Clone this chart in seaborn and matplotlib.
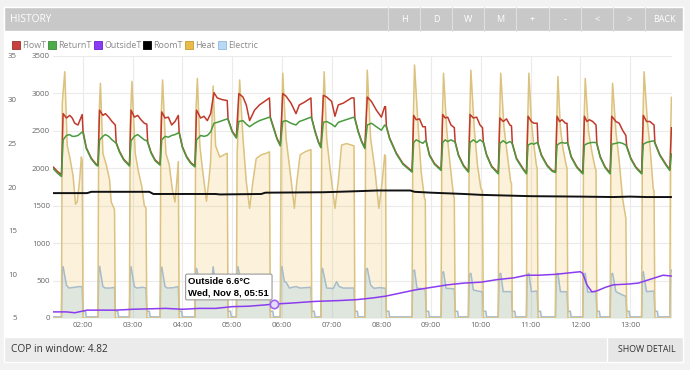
import matplotlib
matplotlib.use("Agg")
import matplotlib.pyplot as plt
import matplotlib.dates as mdates
from matplotlib.patches import Rectangle
from matplotlib.lines import Line2D
import pandas as pd
import seaborn as sns

# ---------------- data (time "HH:MM", value) ----------------
DAY = "2023-11-08 "

FLOW_T = [
    ("01:24", 22.3), ("01:29", 21.8), ("01:34", 21.4),
    ("01:36", 28.4), ("01:40", 27.9), ("01:44", 28.2), ("01:47", 27.9), ("01:50", 27.3), ("01:54", 27.1), ("01:59", 28.3), ("02:00", 26.4),
    ("02:04", 24.5), ("02:10", 23.3), ("02:16", 22.6), ("02:18", 22.5),
    ("02:20", 28.8), ("02:24", 28.2), ("02:27", 28.4), ("02:31", 28.0), ("02:35", 27.5), ("02:39", 27.1),
    ("02:40", 25.1), ("02:44", 24.1), ("02:49", 23.2), ("02:56", 22.5),
    ("02:58", 28.8), ("03:02", 28.0), ("03:06", 28.2), ("03:10", 27.7), ("03:14", 27.3), ("03:17", 27.2),
    ("03:18", 25.2), ("03:22", 24.0), ("03:27", 23.1), ("03:33", 22.6),
    ("03:35", 28.6), ("03:39", 27.9), ("03:43", 28.0), ("03:47", 27.1), ("03:51", 27.5), ("03:55", 28.2), ("03:56", 26.3),
    ("04:00", 24.6), ("04:05", 23.5), ("04:10", 22.8), ("04:15", 22.4),
    ("04:17", 28.8), ("04:22", 27.9), ("04:26", 28.1), ("04:30", 27.6), ("04:34", 28.4), ("04:38", 30.8), ("04:42", 30.2), ("04:48", 30.0), ("04:54", 29.9), ("04:55", 27.8),
    ("05:00", 26.4), ("05:05", 25.7),
    ("05:08", 30.7), ("05:13", 30.3), ("05:17", 29.4), ("05:21", 27.6), ("05:27", 28.8), ("05:33", 29.4), ("05:39", 29.8), ("05:45", 30.2), ("05:46", 28.0),
    ("05:50", 26.8), ("05:54", 25.6), ("05:58", 24.8),
    ("06:01", 30.7), ("06:05", 30.4), ("06:11", 29.6), ("06:17", 28.4), ("06:21", 29.4), ("06:27", 29.7), ("06:35", 30.2), ("06:36", 27.9),
    ("06:40", 26.4), ("06:44", 25.2), ("06:47", 24.6),
    ("06:50", 30.5), ("06:54", 30.3), ("07:00", 29.8), ("07:04", 28.1), ("07:08", 29.4), ("07:14", 29.6), ("07:24", 30.2), ("07:27", 30.2), ("07:28", 27.9),
    ("07:32", 26.4), ("07:36", 25.3), ("07:40", 24.5),
    ("07:43", 30.3), ("07:48", 29.8), ("07:54", 28.8), ("08:00", 28.0), ("08:04", 29.2), ("08:05", 29.2), ("08:06", 27.0),
    ("08:10", 25.6), ("08:18", 23.9), ("08:26", 22.7), ("08:37", 21.8),
    ("08:39", 28.2), ("08:42", 27.7), ("08:46", 27.8), ("08:50", 26.9), ("08:53", 26.9), ("08:54", 25.3),
    ("08:58", 23.7), ("09:04", 22.7), ("09:12", 22.0),
    ("09:14", 28.3), ("09:17", 27.9), ("09:20", 28.0), ("09:24", 27.1), ("09:28", 26.8), ("09:29", 25.2),
    ("09:33", 23.7), ("09:39", 22.5), ("09:45", 21.8),
    ("09:47", 28.3), ("09:51", 27.9), ("09:55", 28.0), ("09:59", 27.1), ("10:02", 26.8), ("10:03", 25.2),
    ("10:07", 23.7), ("10:13", 22.4), ("10:21", 21.6),
    ("10:23", 27.9), ("10:27", 27.5), ("10:31", 27.8), ("10:35", 27.1), ("10:37", 27.0), ("10:38", 25.0),
    ("10:43", 23.3), ("10:51", 22.1), ("10:55", 21.6),
    ("10:57", 28.1), ("11:01", 27.5), ("11:04", 27.3), ("11:08", 27.3), ("11:09", 25.0),
    ("11:13", 23.7), ("11:20", 22.5), ("11:26", 21.9), ("11:30", 21.75),
    ("11:32", 28.1), ("11:35", 27.5), ("11:38", 27.7), ("11:42", 27.3), ("11:44", 27.3), ("11:45", 25.0),
    ("11:49", 23.5), ("11:56", 22.3), ("12:03", 21.6),
    ("12:05", 28.1), ("12:08", 27.5), ("12:11", 27.7), ("12:15", 27.5), ("12:19", 27.1), ("12:20", 25.0),
    ("12:24", 23.5), ("12:30", 22.3), ("12:36", 21.6),
    ("12:38", 28.1), ("12:43", 27.5), ("12:47", 27.3), ("12:51", 26.5), ("12:55", 25.9), ("12:56", 24.7),
    ("13:01", 23.3), ("13:07", 22.3), ("13:14", 21.6),
    ("13:16", 28.2), ("13:20", 27.5), ("13:24", 27.5), ("13:29", 27.1), ("13:30", 25.1),
    ("13:36", 23.7), ("13:44", 22.5), ("13:48", 22.0), ("13:50", 26.8),
]

RETURN_T = [
    ("01:24", 22.1), ("01:29", 21.6), ("01:34", 21.2),
    ("01:36", 25.4), ("01:40", 25.9), ("01:44", 26.0), ("01:47", 25.8), ("01:50", 25.8), ("01:54", 25.9), ("01:59", 26.3), ("02:00", 26.2),
    ("02:04", 24.4), ("02:10", 23.2), ("02:16", 22.5), ("02:18", 22.4),
    ("02:20", 25.4), ("02:24", 25.8), ("02:27", 26.0), ("02:31", 25.8), ("02:35", 25.4), ("02:39", 25.1),
    ("02:40", 25.0), ("02:44", 24.0), ("02:49", 23.1), ("02:56", 22.4),
    ("02:58", 25.3), ("03:02", 25.8), ("03:06", 26.0), ("03:10", 25.7), ("03:14", 25.4), ("03:17", 25.3),
    ("03:18", 25.1), ("03:22", 23.9), ("03:27", 23.0), ("03:33", 22.5),
    ("03:35", 25.4), ("03:39", 25.8), ("03:43", 25.7), ("03:47", 25.9), ("03:51", 26.0), ("03:55", 26.2), ("03:56", 26.2),
    ("04:00", 24.5), ("04:05", 23.4), ("04:10", 22.7), ("04:15", 22.3),
    ("04:17", 25.4), ("04:22", 25.9), ("04:26", 25.8), ("04:30", 25.9), ("04:34", 26.3), ("04:38", 27.3), ("04:42", 27.4), ("04:48", 27.6), ("04:54", 27.8), ("04:55", 27.7),
    ("05:00", 26.3), ("05:05", 25.6),
    ("05:08", 27.5), ("05:13", 27.6), ("05:17", 27.2), ("05:21", 26.9), ("05:27", 27.3), ("05:33", 27.6), ("05:39", 27.8), ("05:45", 28.0), ("05:46", 27.9),
    ("05:50", 26.7), ("05:54", 25.5), ("05:58", 24.7),
    ("06:01", 27.5), ("06:05", 27.6), ("06:11", 27.3), ("06:17", 27.1), ("06:21", 27.5), ("06:27", 27.7), ("06:35", 28.0), ("06:36", 27.8),
    ("06:40", 26.3), ("06:44", 25.1), ("06:47", 24.5),
    ("06:50", 27.4), ("06:54", 27.5), ("07:00", 27.2), ("07:04", 26.9), ("07:08", 27.4), ("07:14", 27.6), ("07:24", 27.9), ("07:27", 28.0), ("07:28", 27.8),
    ("07:32", 26.3), ("07:36", 25.2), ("07:40", 24.4),
    ("07:43", 27.1), ("07:48", 27.3), ("07:54", 26.9), ("08:00", 26.5), ("08:04", 27.1), ("08:05", 27.0), ("08:06", 26.9),
    ("08:10", 25.5), ("08:18", 23.8), ("08:26", 22.6), ("08:37", 21.7),
    ("08:39", 25.1), ("08:42", 25.4), ("08:46", 25.2), ("08:50", 25.0), ("08:53", 25.3), ("08:54", 25.2),
    ("08:58", 23.6), ("09:04", 22.6), ("09:12", 21.9),
    ("09:14", 25.1), ("09:17", 25.4), ("09:20", 25.2), ("09:24", 25.4), ("09:28", 25.2), ("09:29", 25.1),
    ("09:33", 23.6), ("09:39", 22.4), ("09:45", 21.7),
    ("09:47", 25.1), ("09:51", 25.4), ("09:55", 25.1), ("09:59", 25.4), ("10:02", 25.2), ("10:03", 25.1),
    ("10:07", 23.6), ("10:13", 22.3), ("10:21", 21.5),
    ("10:23", 25.0), ("10:27", 25.3), ("10:31", 25.0), ("10:35", 25.2), ("10:37", 25.1), ("10:38", 24.9),
    ("10:43", 23.2), ("10:51", 22.0), ("10:55", 21.5),
    ("10:57", 24.8), ("11:01", 25.0), ("11:04", 24.9), ("11:08", 25.1), ("11:09", 24.9),
    ("11:13", 23.6), ("11:20", 22.4), ("11:26", 21.8), ("11:30", 21.65),
    ("11:32", 24.8), ("11:35", 25.0), ("11:38", 25.1), ("11:42", 25.0), ("11:44", 25.1), ("11:45", 24.9),
    ("11:49", 23.4), ("11:56", 22.2), ("12:03", 21.5),
    ("12:05", 24.8), ("12:09", 25.0), ("12:14", 25.1), ("12:19", 25.1), ("12:20", 24.9),
    ("12:24", 23.4), ("12:30", 22.2), ("12:36", 21.5),
    ("12:38", 24.9), ("12:43", 25.0), ("12:47", 25.1), ("12:51", 25.0), ("12:55", 24.8), ("12:56", 24.6),
    ("13:01", 23.2), ("13:07", 22.2), ("13:14", 21.5),
    ("13:16", 24.9), ("13:20", 25.1), ("13:24", 25.2), ("13:29", 25.3), ("13:30", 25.0),
    ("13:36", 23.6), ("13:44", 22.4), ("13:48", 21.9), ("13:50", 23.8),
]

OUTSIDE_T = [
    ("01:24", 5.7), ("01:40", 5.7), ("01:50", 5.6), ("01:55", 5.7), ("02:00", 5.8), ("02:05", 5.9),
    ("02:40", 5.9), ("03:00", 6.0), ("03:40", 6.1), ("04:00", 6.0), ("04:20", 6.1), ("04:40", 6.1),
    ("05:00", 6.3), ("05:20", 6.35), ("05:40", 6.5), ("05:51", 6.6), ("06:10", 6.7), ("06:40", 6.9),
    ("07:10", 7.0), ("07:30", 7.1), ("07:50", 7.3), ("08:05", 7.5), ("08:20", 7.8), ("08:40", 8.2),
    ("09:00", 8.5), ("09:20", 8.8), ("09:40", 9.0), ("10:00", 9.1), ("10:20", 9.4), ("10:40", 9.6),
    ("10:55", 9.9), ("11:10", 9.9), ("11:30", 10.0), ("11:50", 10.2), ("12:00", 10.3), ("12:03", 10.1),
    ("12:08", 8.8), ("12:14", 8.0), ("12:20", 8.1), ("12:30", 8.5), ("12:40", 8.8), ("13:00", 8.9),
    ("13:10", 9.0), ("13:20", 9.3), ("13:30", 9.6), ("13:40", 9.9), ("13:50", 9.8),
]

ROOM_T = [
    ("01:24", 19.3), ("02:05", 19.3), ("02:10", 19.45), ("03:20", 19.45), ("03:25", 19.2), ("04:40", 19.2),
    ("04:45", 19.15), ("05:35", 19.2), ("05:40", 19.35), ("06:50", 19.4), ("07:25", 19.5), ("07:55", 19.6),
    ("08:35", 19.6), ("08:40", 19.45), ("09:00", 19.35), ("09:40", 19.2), ("10:00", 19.1), ("10:40", 19.0),
    ("11:00", 18.95), ("12:00", 18.9), ("12:40", 18.85), ("13:00", 18.9), ("13:20", 18.85), ("13:50", 18.85),
]

HEAT_W = [
    ("01:24", 0), ("01:34", 0), ("01:35", 2870), ("01:38", 3290), ("01:41", 2300), ("01:44", 2150), ("01:48", 1900), ("01:51", 1520), ("01:53", 1550), ("01:56", 1850), ("01:58", 2150), ("01:59", 2100), ("02:00", 0),
    ("02:18", 0), ("02:19", 2600), ("02:21", 3135), ("02:24", 2200), ("02:28", 2050), ("02:32", 1850), ("02:34", 1550), ("02:38", 1450), ("02:39", 0),
    ("02:56", 0), ("02:57", 2600), ("02:59", 3160), ("03:03", 2200), ("03:07", 1950), ("03:11", 1750), ("03:14", 1500), ("03:16", 1470), ("03:17", 0),
    ("03:33", 0), ("03:34", 2600), ("03:36", 3180), ("03:40", 2200), ("03:44", 2050), ("03:48", 1700), ("03:51", 1550), ("03:53", 1800), ("03:55", 2090), ("03:56", 0),
    ("04:15", 0), ("04:16", 2700), ("04:18", 3200), ("04:21", 2300), ("04:24", 2000), ("04:29", 1560), ("04:32", 1850), ("04:34", 2100), ("04:37", 3100), ("04:40", 2300), ("04:45", 2150), ("04:50", 2180), ("04:54", 2200), ("04:55", 0),
    ("05:05", 0), ("05:06", 2200), ("05:09", 3180), ("05:13", 2400), ("05:17", 1820), ("05:21", 1465), ("05:25", 1820), ("05:29", 2130), ("05:35", 2180), ("05:41", 2200), ("05:45", 2220), ("05:46", 0),
    ("05:58", 0), ("05:59", 2300), ("06:01", 3270), ("06:05", 2400), ("06:09", 2040), ("06:15", 1465), ("06:18", 1820), ("06:22", 2180), ("06:28", 2220), ("06:35", 2250), ("06:36", 0),
    ("06:47", 0), ("06:48", 2300), ("06:51", 3290), ("06:54", 2400), ("06:58", 2000), ("07:04", 1465), ("07:08", 1820), ("07:12", 2310), ("07:18", 2330), ("07:27", 2300), ("07:28", 0),
    ("07:40", 0), ("07:41", 2400), ("07:43", 3310), ("07:47", 2400), ("07:52", 2000), ("07:57", 1465), ("08:01", 1820), ("08:04", 2180), ("08:05", 2150), ("08:06", 0),
    ("08:37", 0), ("08:38", 2400), ("08:40", 3380), ("08:44", 2620), ("08:48", 1950), ("08:52", 1600), ("08:53", 1580), ("08:54", 0),
    ("09:12", 0), ("09:13", 2400), ("09:15", 3270), ("09:19", 2490), ("09:23", 2040), ("09:27", 1640), ("09:28", 1600), ("09:29", 0),
    ("09:45", 0), ("09:46", 2400), ("09:48", 3310), ("09:52", 2540), ("09:56", 2040), ("10:00", 1730), ("10:02", 1700), ("10:03", 0),
    ("10:21", 0), ("10:22", 2400), ("10:24", 3270), ("10:28", 2540), ("10:32", 2180), ("10:36", 1820), ("10:37", 1800), ("10:38", 0),
    ("10:55", 0), ("10:56", 2400), ("10:58", 3270), ("11:01", 2620), ("11:04", 2310), ("11:07", 2040), ("11:08", 2000), ("11:09", 0),
    ("11:30", 0), ("11:31", 2400), ("11:33", 3225), ("11:36", 2540), ("11:39", 2270), ("11:43", 2040), ("11:44", 2000), ("11:45", 0),
    ("12:03", 0), ("12:04", 2400), ("12:06", 3200), ("12:10", 2490), ("12:14", 2220), ("12:18", 2000), ("12:19", 1980), ("12:20", 0),
    ("12:36", 0), ("12:37", 2400), ("12:39", 3135), ("12:43", 2490), ("12:47", 2090), ("12:51", 1600), ("12:55", 1330), ("12:56", 0),
    ("13:14", 0), ("13:15", 2400), ("13:17", 3290), ("13:21", 2620), ("13:24", 2310), ("13:28", 1730), ("13:29", 1700), ("13:30", 0),
    ("13:48", 0), ("13:49", 2500), ("13:50", 2950),
]

ELECTRIC_W = [
    ("01:24", 15), ("01:34", 15), ("01:35", 650), ("01:36", 685), ("01:40", 440), ("01:43", 400), ("01:50", 410), ("01:56", 420), ("01:59", 415), ("02:00", 90), ("02:03", 90), ("02:04", 15),
    ("02:18", 15), ("02:19", 650), ("02:20", 690), ("02:24", 420), ("02:27", 400), ("02:33", 400), ("02:38", 410), ("02:39", 90), ("02:42", 90), ("02:43", 15),
    ("02:56", 15), ("02:57", 650), ("02:58", 685), ("03:02", 420), ("03:05", 400), ("03:12", 410), ("03:16", 400), ("03:17", 90), ("03:20", 90), ("03:21", 15),
    ("03:33", 15), ("03:34", 650), ("03:35", 680), ("03:39", 420), ("03:42", 400), ("03:49", 405), ("03:55", 420), ("03:56", 90), ("03:59", 90), ("04:00", 15),
    ("04:15", 15), ("04:16", 640), ("04:17", 663), ("04:21", 441), ("04:25", 400), ("04:31", 400), ("04:35", 430), ("04:37", 685), ("04:40", 441), ("04:45", 410), ("04:54", 400), ("04:55", 90), ("04:58", 90), ("04:59", 15),
    ("05:05", 15), ("05:06", 650), ("05:07", 685), ("05:12", 400), ("05:20", 390), ("05:30", 400), ("05:45", 410), ("05:46", 90), ("05:49", 90), ("05:50", 15),
    ("05:58", 15), ("05:59", 650), ("06:00", 685), ("06:03", 485), ("06:05", 480), ("06:09", 400), ("06:17", 420), ("06:22", 400), ("06:35", 410), ("06:36", 90), ("06:39", 90), ("06:40", 15),
    ("06:47", 15), ("06:48", 640), ("06:49", 663), ("06:54", 400), ("07:02", 395), ("07:06", 485), ("07:09", 420), ("07:14", 400), ("07:27", 400), ("07:28", 90), ("07:31", 90), ("07:32", 15),
    ("07:40", 15), ("07:41", 640), ("07:43", 663), ("07:47", 441), ("07:51", 397), ("07:58", 405), ("08:05", 397), ("08:06", 90), ("08:09", 90), ("08:10", 15),
    ("08:37", 15), ("08:38", 620), ("08:40", 641), ("08:43", 397), ("08:53", 390), ("08:54", 90), ("08:57", 90), ("08:58", 15),
    ("09:12", 15), ("09:13", 600), ("09:15", 619), ("09:18", 397), ("09:28", 390), ("09:29", 90), ("09:32", 90), ("09:33", 15),
    ("09:45", 15), ("09:46", 580), ("09:48", 597), ("09:51", 374), ("10:00", 352), ("10:02", 352), ("10:03", 90), ("10:06", 90), ("10:07", 15),
    ("10:21", 15), ("10:22", 580), ("10:24", 597), ("10:27", 352), ("10:37", 352), ("10:38", 90), ("10:41", 90), ("10:42", 15),
    ("10:55", 15), ("10:56", 580), ("10:58", 597), ("11:01", 352), ("11:08", 360), ("11:09", 90), ("11:12", 90), ("11:13", 15),
    ("11:30", 15), ("11:31", 580), ("11:33", 597), ("11:36", 352), ("11:44", 350), ("11:45", 90), ("11:48", 90), ("11:49", 15),
    ("12:03", 15), ("12:04", 580), ("12:06", 597), ("12:09", 345), ("12:19", 350), ("12:20", 90), ("12:23", 90), ("12:24", 15),
    ("12:36", 15), ("12:37", 580), ("12:39", 597), ("12:43", 352), ("12:51", 307), ("12:55", 290), ("12:56", 90), ("12:59", 90), ("13:00", 15),
    ("13:14", 15), ("13:15", 600), ("13:16", 619), ("13:20", 352), ("13:29", 360), ("13:30", 90), ("13:33", 90), ("13:34", 15),
    ("13:48", 15), ("13:49", 600), ("13:50", 640),
]

SERIES_NAMES = ["FlowT", "ReturnT", "OutsideT", "RoomT", "Heat", "Electric"]
HEADER_BUTTONS = ["H", "D", "W", "M", "+", "-", "<", ">", "BACK"]
TOOLTIP_TIME = "05:51"
TOOLTIP_VALUE = 6.6
TOOLTIP_LABEL = "Wed, Nov 8, 05:51"
COP_TEXT = "COP in window: 4.82"
TEMP_TICKS = [5, 10, 15, 20, 25, 30, 35]
POWER_TICKS = [0, 500, 1000, 1500, 2000, 2500, 3000, 3500]


def frame(pairs):
    df = pd.DataFrame(pairs, columns=["time", "value"])
    df["time"] = pd.to_datetime(DAY + df["time"])
    return df


# ---------------- styling ----------------
sns.set_theme(style="white")
plt.rcParams["font.family"] = ["Open Sans", "DejaVu Sans"]

W, H = 690, 370
fig = plt.figure(figsize=(W / 100, H / 100), dpi=100)
fig.patch.set_facecolor("#f2f2f2")


def rect(x0, y0, x1, y1, color, z=-1, **kw):
    fig.add_artist(Rectangle((x0 / W, 1 - y1 / H), (x1 - x0) / W, (y1 - y0) / H,
                             transform=fig.transFigure, facecolor=color, zorder=z, **kw))


# panel + header + footer
rect(4, 7, 683, 337, "white")
rect(4, 7, 683, 31, "#c8c8c8")
rect(4, 337, 683, 362, "#ebebeb")
rect(607, 337, 683, 362, "#e6e6e6")
fig.text(10 / W, 1 - 19.5 / H, "HISTORY", color="white", fontsize=7.3, ha="left", va="center")
btn_centers = [404, 436, 468, 500, 532, 565, 597, 629, 664]
for lab, cx in zip(HEADER_BUTTONS, btn_centers):
    fig.text(cx / W, 1 - 19.5 / H, lab, color="white", fontsize=6.5, ha="center", va="center")
for sx in [388, 420, 452, 484, 516, 549, 581, 613, 645]:
    fig.add_artist(Line2D([sx / W, sx / W], [1 - 7 / H, 1 - 31 / H], transform=fig.transFigure,
                          color="#dedede", lw=0.8, zorder=0))
fig.text(11 / W, 1 - 349.5 / H, COP_TEXT, color="#333333", fontsize=7.3, ha="left", va="center")
fig.text(676 / W, 1 - 350 / H, "SHOW DETAIL", color="#333333", fontsize=6.4, ha="right", va="center")

# legend
leg_colors = ["#c8413c", "#4caa48", "#8a3cf5", "#000000", "#e8bb4a", "#b8daf5"]
leg_edges = ["#a02e2a", "#3a8a36", "#6a20d0", "#000000", "#c89a30", "#90b8d8"]
leg_sq = [12.3, 48.3, 94.3, 143.3, 185, 218.3]
leg_tx = [21.7, 58.3, 104.3, 152.7, 195, 227.7]
for name, c, ec, sq, tx in zip(SERIES_NAMES, leg_colors, leg_edges, leg_sq, leg_tx):
    rect(sq, 41.5, sq + 8, 48.5, c, z=2, edgecolor=ec, linewidth=0.6)
    fig.text(tx / W, 1 - 45.3 / H, name, color="#8a8a8a", fontsize=6.4, ha="left", va="center")

# ---------------- chart ----------------
ax = fig.add_axes([53 / W, 1 - 318 / H, 619 / W, 262 / H])
ax.set_facecolor("none")

heat = frame(HEAT_W)
elec = frame(ELECTRIC_W)
ax.fill_between(heat["time"], 0, heat["value"], color="#f0c050", alpha=0.2, lw=0, zorder=1)
ax.fill_between(elec["time"], 0, elec["value"], color="#64b4e6", alpha=0.19, lw=0, zorder=1.1)
sns.lineplot(data=elec, x="time", y="value", ax=ax, color="#a7bccb", lw=1.1,
             estimator=None, errorbar=None, sort=False, legend=False)
sns.lineplot(data=heat, x="time", y="value", ax=ax, color="#dcc27f", lw=1.1,
             estimator=None, errorbar=None, sort=False, legend=False)

ax2 = ax.twinx()
flow = frame(FLOW_T)
ret = frame(RETURN_T)
out = frame(OUTSIDE_T)
room = frame(ROOM_T)
for df, col, lw in [(flow, "#c0392b", 1.1), (ret, "#4a9b3f", 1.1),
                    (room, "#111111", 1.4), (out, "#8b3cf0", 1.1)]:
    sns.lineplot(data=df, x="time", y="value", ax=ax2, color=col, lw=lw,
                 estimator=None, errorbar=None, sort=False, legend=False)

# tooltip marker + box
tip_t = pd.Timestamp(DAY + TOOLTIP_TIME)
ax2.plot([tip_t], [TOOLTIP_VALUE], marker="o", ms=6, mfc="#e6dcff", mec="#9d63f5", mew=1.2, zorder=5)
ax2.annotate(f"Outside {TOOLTIP_VALUE}°C\n{TOOLTIP_LABEL}", xy=(tip_t, TOOLTIP_VALUE),
             xytext=(-86, 7), textcoords="offset pixels", ha="left", va="bottom",
             fontsize=6.8, fontweight="bold", family=["Liberation Sans", "DejaVu Sans"],
             color="black", linespacing=1.3, zorder=6,
             bbox=dict(boxstyle="round,pad=0.3,rounding_size=0.15", fc="white", ec="#9a9a9a", lw=0.8))

# axes formatting
x0 = pd.Timestamp(DAY + "01:23:48")
x1 = pd.Timestamp(DAY + "13:50:40")
ax.set_xlim(x0, x1)
ax.set_ylim(0, 3500)
ax.set_yticks(POWER_TICKS)
ax.set_yticklabels([str(v) for v in POWER_TICKS])
ax2.set_ylim(5, 35)
ax2.set_yticks(TEMP_TICKS)
ax2.set_yticklabels([str(v) for v in TEMP_TICKS])
ax.xaxis.set_major_locator(mdates.HourLocator())
ax.xaxis.set_major_formatter(mdates.DateFormatter("%H:%M"))
for a in (ax, ax2):
    a.set_xlabel("")
    a.set_ylabel("")
    for s in a.spines.values():
        s.set_visible(False)

ax.grid(True, color="#ebebeb", lw=0.8)
ax.set_axisbelow(True)
ax2.grid(False)

ax.yaxis.tick_left()
ax.tick_params(axis="y", length=0, pad=2.2, labelsize=5.7, labelcolor="#666666")
ax.tick_params(axis="x", length=0, pad=3.2, labelsize=5.7, labelcolor="#666666")
ax2.yaxis.tick_left()
ax2.tick_params(axis="y", which="both", left=False, right=False, labelleft=True, labelright=False,
                length=0, pad=26, labelsize=5.7, labelcolor="#666666")

fig.savefig("out.png", dpi=100, facecolor=fig.get_facecolor())
